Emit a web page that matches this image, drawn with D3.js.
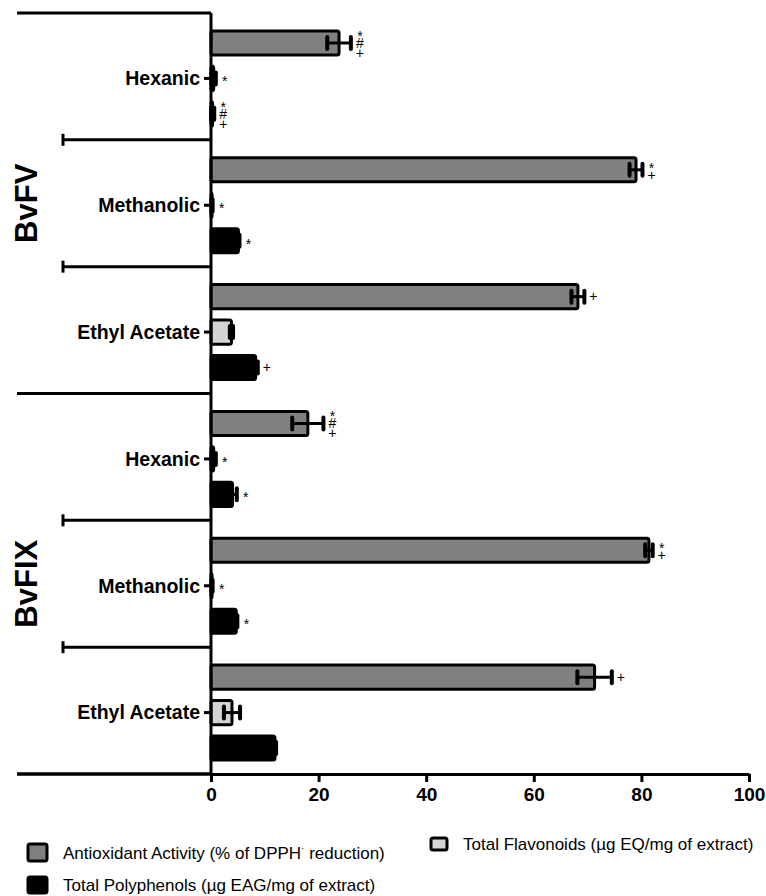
<!DOCTYPE html>
<html>
<head>
<meta charset="UTF-8">
<title>BvFV / BvFIX extracts</title>
<script src="https://d3js.org/d3.v7.min.js"></script>
<style>
body { margin: 0; background: #fff; }
svg { display: block; font-family: "Liberation Sans", Arial, sans-serif; }
</style>
</head>
<body>
<script>
// values (one entry per group/extract, BvFV first)
var groups = ["BvFV", "BvFIX"];
var extracts = ["Hexanic", "Methanolic", "Ethyl Acetate"];
var seriesNames = ["Antioxidant", "Flavonoids", "Polyphenols"];

var antioxidant    = [23.8, 79.0, 68.2, 18.0, 81.4, 71.3];
var antioxidantErr = [2.2, 1.2, 1.2, 2.9, 0.7, 3.2];
var flavonoids     = [0.5, 0.2, 3.8, 0.5, 0.2, 3.9];
var flavonoidsErr  = [0.4, 0.1, 0.3, 0.4, 0.1, 1.5];
var polyphenols    = [0.3, 5.1, 8.3, 4.0, 4.7, 11.9];
var polyphenolsErr = [0.3, 0.2, 0.4, 0.8, 0.2, 0.2];

var antioxidantMarks = ["*#+", "*+", "+", "*#+", "*+", "+"];
var flavonoidsMarks  = ["*", "*", "", "*", "*", ""];
var polyphenolsMarks = ["*#+", "*", "+", "*", "*", ""];

var xTicks = [0, 20, 40, 60, 80, 100];

var legendLabels = [
  "Antioxidant Activity (% of DPPH",
  "Total Flavonoids (\u00b5g EQ/mg of extract)",
  "Total Polyphenols (\u00b5g EAG/mg of extract)"
];

var fills = { Antioxidant: "#808080", Flavonoids: "#d4d4d4", Polyphenols: "#000000" };

var width = 766, height = 896;
var svg = d3.select("body").append("svg")
    .attr("width", width)
    .attr("height", height);

var keys = [];
groups.forEach(function (g) {
  extracts.forEach(function (e) { keys.push(g + "|" + e); });
});

var rows = keys.map(function (k, i) {
  return {
    key: k,
    values: [
      { s: "Antioxidant", v: antioxidant[i], e: antioxidantErr[i], m: antioxidantMarks[i] },
      { s: "Flavonoids", v: flavonoids[i], e: flavonoidsErr[i], m: flavonoidsMarks[i] },
      { s: "Polyphenols", v: polyphenols[i], e: polyphenolsErr[i], m: polyphenolsMarks[i] }
    ]
  };
});

var x = d3.scaleLinear().domain([0, 100]).range([211, 749]);
var y = d3.scaleBand().domain(keys).range([13, 774]).padding(0);
var inner = d3.scaleBand().domain(seriesNames).range([-47.5, 47.5]).paddingInner(0.32);
var off = 2;

// bars
var row = svg.append("g").selectAll("g")
    .data(rows)
    .enter().append("g")
    .attr("transform", function (d) { return "translate(0," + (y(d.key) + y.bandwidth() / 2 + off) + ")"; });

var bar = row.selectAll("g")
    .data(function (d) { return d.values; })
    .enter().append("g")
    .attr("transform", function (d) { return "translate(0," + inner(d.s) + ")"; });

bar.append("rect")
    .attr("x", x(0))
    .attr("y", 0)
    .attr("width", function (d) { return Math.max(x(d.v) - x(0), 0.5); })
    .attr("height", inner.bandwidth())
    .attr("rx", 2)
    .attr("fill", function (d) { return fills[d.s]; })
    .attr("stroke", "#000")
    .attr("stroke-width", 3)
    .attr("stroke-linejoin", "round");

// error bars
var cy = inner.bandwidth() / 2;
bar.append("line")
    .attr("x1", function (d) { return x(d.v - d.e); })
    .attr("x2", function (d) { return x(d.v + d.e); })
    .attr("y1", cy).attr("y2", cy)
    .attr("stroke", "#000").attr("stroke-width", 3);

bar.selectAll(".cap")
    .data(function (d) { return [d.v - d.e, d.v + d.e].map(function (v) { return { v: Math.max(v, 0) }; }); })
    .enter().append("line")
    .attr("class", "cap")
    .attr("x1", function (d) { return x(d.v); })
    .attr("x2", function (d) { return x(d.v); })
    .attr("y1", cy - 6).attr("y2", cy + 6)
    .attr("stroke", "#000").attr("stroke-width", 4)
    .attr("stroke-linecap", "round");

// significance marks, stacked in one text element
var lift = { "*": 8, "#": 5, "+": 4.8 };
bar.filter(function (d) { return d.m.length > 0; }).each(function (d) {
  var chars = d.m.split("");
  var n = chars.length;
  var step = 10;
  var t = d3.select(this).append("text")
      .attr("text-anchor", "middle")
      .attr("font-size", 14)
      .attr("fill", "#000");
  chars.forEach(function (c, i) {
    var vc = cy + (i - (n - 1) / 2) * step;
    t.append("tspan")
        .attr("x", x(d.v + d.e) + 9)
        .attr("y", vc + lift[c])
        .text(c);
  });
});

// y axis with category labels
var yAxis = d3.axisLeft(y)
    .tickSize(7)
    .tickSizeOuter(0)
    .tickPadding(4)
    .tickFormat(function (k) { return k.split("|")[1]; });

var yg = svg.append("g")
    .attr("transform", "translate(" + x(0) + "," + off + ")")
    .call(yAxis);
yg.select(".domain").remove();
yg.selectAll(".tick line").attr("stroke-width", 3);
yg.selectAll(".tick text")
    .attr("font-size", 19.5)
    .attr("font-weight", "bold")
    .attr("font-family", "Liberation Sans, Arial, sans-serif")
    .attr("fill", "#000")
    .attr("dy", "0.35em");

svg.append("line")
    .attr("x1", x(0)).attr("x2", x(0))
    .attr("y1", y.range()[0]).attr("y2", y.range()[1])
    .attr("stroke", "#000").attr("stroke-width", 3);

// boundaries between extracts and between groups
var bounds = keys.map(function (k) { return y(k); }).concat([y.range()[1]]);
bounds.forEach(function (b, i) {
  var isGroup = i % extracts.length === 0;
  var x0 = isGroup ? 17 : 63;
  svg.append("line")
      .attr("x1", x0).attr("x2", x(0))
      .attr("y1", b).attr("y2", b)
      .attr("stroke", "#000").attr("stroke-width", 3);
  if (!isGroup) {
    svg.append("line")
        .attr("x1", x0).attr("x2", x0)
        .attr("y1", b - 6).attr("y2", b + 6)
        .attr("stroke", "#000").attr("stroke-width", 3);
  }
});

// group titles
groups.forEach(function (g) {
  var top = y(g + "|" + extracts[0]);
  var bot = y(g + "|" + extracts[extracts.length - 1]) + y.bandwidth();
  svg.append("text")
      .attr("transform", "translate(37," + ((top + bot) / 2) + ") rotate(-90)")
      .attr("text-anchor", "middle")
      .attr("font-size", 31)
      .attr("font-weight", "bold")
      .text(g);
});

// x axis
var xAxis = d3.axisBottom(x)
    .tickValues(xTicks)
    .tickSize(8)
    .tickSizeOuter(0)
    .tickPadding(6);

var xg = svg.append("g")
    .attr("transform", "translate(0," + y.range()[1] + ")")
    .call(xAxis);
xg.select(".domain").attr("stroke-width", 3);
xg.selectAll(".tick line").attr("stroke-width", 3);
xg.selectAll(".tick text")
    .attr("font-size", 19)
    .attr("font-weight", "bold")
    .attr("font-family", "Liberation Sans, Arial, sans-serif")
    .attr("fill", "#000");

svg.append("line")
    .attr("x1", 17).attr("x2", x(0))
    .attr("y1", y.range()[1]).attr("y2", y.range()[1])
    .attr("stroke", "#000").attr("stroke-width", 3);

// legend
var legendItems = [
  { s: "Antioxidant", x: 28, y: 844, w: 19, h: 17, label: legendLabels[0] },
  { s: "Flavonoids", x: 431, y: 838, w: 16, h: 12, label: legendLabels[1] },
  { s: "Polyphenols", x: 28, y: 877, w: 19, h: 16, label: legendLabels[2] }
];

var lg = svg.append("g").selectAll("g")
    .data(legendItems)
    .enter().append("g");

lg.append("rect")
    .attr("x", function (d) { return d.x; })
    .attr("y", function (d) { return d.y; })
    .attr("width", function (d) { return d.w; })
    .attr("height", function (d) { return d.h; })
    .attr("rx", 2)
    .attr("fill", function (d) { return fills[d.s]; })
    .attr("stroke", "#000")
    .attr("stroke-width", 3);

var lt = lg.append("text")
    .attr("x", function (d) { return d.x + d.w + 16; })
    .attr("y", function (d) { return d.y + d.h / 2 + 6; })
    .attr("font-size", 17)
    .text(function (d) { return d.label; });

lt.filter(function (d) { return d.s === "Antioxidant"; })
  .call(function (t) {
    t.append("tspan").attr("dy", -7).attr("font-size", 10).text("\u00b7");
    t.append("tspan").attr("dy", 7).text(" reduction)");
  });
</script>
</body>
</html>
